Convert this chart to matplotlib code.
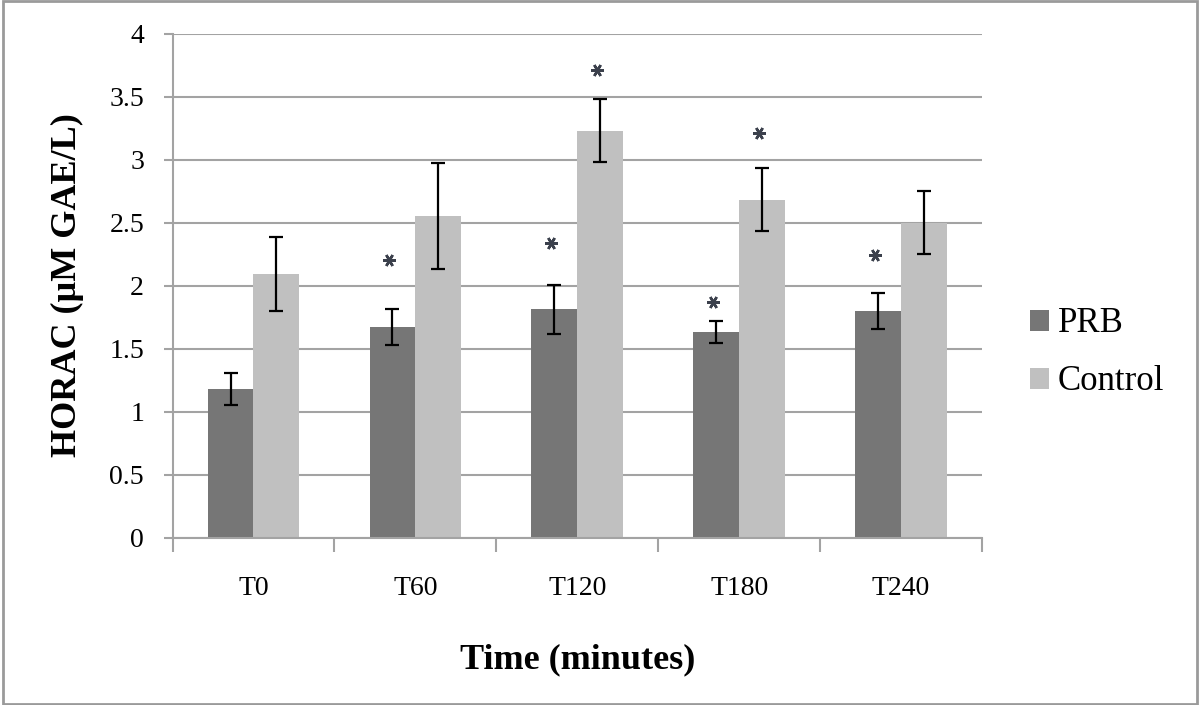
import matplotlib
matplotlib.use("Agg")
import matplotlib.pyplot as plt
from matplotlib.patches import Rectangle
import numpy as np

categories = ["T0", "T60", "T120", "T180", "T240"]
prb = [1.18, 1.67, 1.81, 1.63, 1.80]
prb_err = [0.125, 0.143, 0.197, 0.088, 0.144]
control = [2.09, 2.55, 3.23, 2.68, 2.50]
control_err = [0.295, 0.42, 0.253, 0.25, 0.247]
# significance asterisk heights (data units); None = no asterisk
prb_star = [None, 2.20, 2.34, 1.87, 2.24]
control_star = [None, None, 3.71, 3.21, None]
yticks = [0, 0.5, 1, 1.5, 2, 2.5, 3, 3.5, 4]

plt.rcParams['font.family'] = ['Liberation Serif', 'DejaVu Serif']

W, H = 1200, 705
fig = plt.figure(figsize=(W / 100, H / 100), dpi=100)
fig.patch.set_facecolor('white')

left, right, top, bottom = 172.5, 982, 33.5, 537.5
ax = fig.add_axes([left / W, 1 - bottom / H, (right - left) / W, (bottom - top) / H])

grid_c = '#a3a3a3'
dark = '#767676'
light = '#c0c0c0'
bw = 0.283

x = np.arange(len(categories)) + 0.5
ax.bar(x - bw / 2, prb, width=bw, color=dark, label='PRB', zorder=2)
ax.bar(x + bw / 2, control, width=bw, color=light, label='Control', zorder=2)
ekw = dict(fmt='none', ecolor='black', elinewidth=1.6, capsize=4.8, capthick=1.6, zorder=3)
ax.errorbar(x - bw / 2, prb, yerr=prb_err, **ekw)
ax.errorbar(x + bw / 2, control, yerr=control_err, **ekw)

star_col = '#3b404c'
for xi, s in zip(x - bw / 2, prb_star):
    if s is not None:
        ax.plot(xi - 0.02, s, marker=(6, 2, 90), markersize=9, mew=1.8,
                color=star_col, zorder=4)
for xi, s in zip(x + bw / 2, control_star):
    if s is not None:
        ax.plot(xi - 0.02, s, marker=(6, 2, 90), markersize=9, mew=1.8,
                color=star_col, zorder=4)

ax.set_xlim(0, len(categories))
ax.set_ylim(0, 4)
ax.set_yticks(yticks)
ax.set_yticklabels([f"{t:g}" for t in yticks], fontsize=20)
ax.yaxis.grid(True, color=grid_c, linewidth=1.5, zorder=0)
ax.set_axisbelow(True)

ax.set_xticks(x)
ax.set_xticklabels(categories, fontsize=20)
ax.set_xticks(np.arange(len(categories) + 1), minor=True)
ax.tick_params(axis='x', which='major', length=0, pad=28)
ax.tick_params(axis='x', which='minor', length=10, width=1.5, color=grid_c, direction='out')
ax.tick_params(axis='y', which='major', length=6.5, width=1.5, color=grid_c, pad=14, direction='out')

for s in ['top', 'right']:
    ax.spines[s].set_visible(False)
for s in ['left', 'bottom']:
    ax.spines[s].set_color(grid_c)
    ax.spines[s].set_linewidth(1.5)

ax.set_xlabel('Time (minutes)', fontsize=26, fontweight='bold', labelpad=30)
ax.set_ylabel('HORAC (µM GAE/L)', fontsize=26, fontweight='bold', labelpad=18)

leg = ax.legend(loc='center left', bbox_to_anchor=(1030.0 / W, 1 - 353 / H),
                bbox_transform=fig.transFigure, frameon=False, fontsize=25,
                handlelength=0.55, handleheight=0.55, handletextpad=0.25,
                borderpad=0, borderaxespad=0, labelspacing=0.72)

fig.patches.append(Rectangle((3 / W, 1 / H), 1194 / W, 703 / H, transform=fig.transFigure,
                             fill=False, edgecolor='#9a9a9a', linewidth=2))

fig.savefig('out.png', dpi=100, facecolor='white')
